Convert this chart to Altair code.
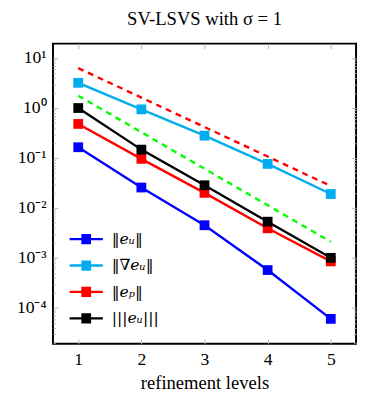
import json
import altair as alt
import pandas as pd

# ---- data ----
levels = [1, 2, 3, 4, 5]
err_u = [0.164, 0.0256, 0.0045, 0.00057, 0.000060]
err_grad_u = [3.2, 0.94, 0.28, 0.076, 0.019]
err_p = [0.48, 0.096, 0.020, 0.0039, 0.00085]
err_energy_u = [1.0, 0.147, 0.0284, 0.0053, 0.0010]

ref_levels = [1, 5]
ref_red = [6.3, 0.0275]
ref_green = [1.77, 0.0021]

series_names = ["‖eᵤ‖", "‖∇eᵤ‖", "‖eₚ‖", "|||eᵤ|||"]
series_colors = ["#0000ff", "#00aeef", "#ff0000", "#000000"]

x_ticks = [1, 2, 3, 4, 5]
y_major = [1e-4, 1e-3, 1e-2, 1e-1, 1e0, 1e1]
y_labels = ["10⁻⁴", "10⁻³", "10⁻²", "10⁻¹", "10⁰", "10¹"]
y_minor = [d * k for d in [1e-5, 1e-4, 1e-3, 1e-2, 1e-1, 1e0] for k in range(2, 10)]
x_domain = [0.6, 5.4]
y_domain = [10 ** -4.72, 10 ** 1.29]

# ---- tables ----
rows = []
for name, vals in zip(series_names, [err_u, err_grad_u, err_p, err_energy_u]):
    for lv, v in zip(levels, vals):
        rows.append({"level": lv, "err": v, "series": name})
df = pd.DataFrame(rows)
df_red = pd.DataFrame({"level": ref_levels, "err": ref_red})
df_green = pd.DataFrame({"level": ref_levels, "err": ref_green})

xs = alt.Scale(domain=x_domain, nice=False, zero=False)
ys = alt.Scale(type="log", domain=y_domain, nice=False)

lg = "log(datum.value)/LN10"
is_major = f"abs({lg} - round({lg})) < 0.001"
label_expr = f"{is_major} ? {json.dumps(y_labels, ensure_ascii=False)}[round({lg})+4] : ''"
y_tick_size = {"condition": {"test": is_major, "value": -5}, "value": -2.5}
tick_color = "#b4b4b4"

SERIF = "Liberation Serif"
LEG_FONT = "DejaVu Serif"

legend_symbol = ("M-3,0H3M-0.88,-0.71H0.88M-0.88,-0.35H0.88M-0.88,0H0.88"
                 "M-0.88,0.35H0.88M-0.88,0.71H0.88")

main = alt.Chart(df).mark_line(
    strokeWidth=2.4,
    point=alt.OverlayMarkDef(shape="square", size=100, filled=True, opacity=1),
).encode(
    x=alt.X("level:Q", scale=xs, axis=alt.Axis(
        orient="bottom", values=x_ticks, title="refinement levels",
        tickSize={"expr": "-5"}, tickColor=tick_color, labelPadding=12,
        labelFont=SERIF, labelFontSize=18, titleFont=SERIF, titleFontSize=19,
        titleFontWeight="normal", titlePadding=6, titleColor="black", labelColor="black",
        format="d")),
    y=alt.Y("err:Q", scale=ys, axis=alt.Axis(
        orient="left", values=y_major + y_minor, labelExpr=label_expr,
        tickSize=y_tick_size, tickColor=tick_color, labelPadding=12,
        labelFont=SERIF, labelFontSize=18, labelOverlap=False, title=None,
        labelColor="black")),
    color=alt.Color("series:N", sort=series_names,
                    scale=alt.Scale(domain=series_names, range=series_colors),
                    legend=alt.Legend(
                        title=None, orient="none", legendX=26, legendY=192,
                        symbolType=legend_symbol, symbolSize=128,
                        symbolStrokeWidth=2.4, symbolOpacity=1,
                        labelFont=LEG_FONT, labelFontSize=16, labelFontStyle="italic",
                        labelOffset=18, rowPadding=9, padding=0, labelColor="black")),
)

red = alt.Chart(df_red).mark_line(
    strokeWidth=2.4, strokeDash=[6, 5], color="#ff0000"
).encode(
    x=alt.X("level:Q", scale=xs, axis=alt.Axis(
        orient="top", values=x_ticks, labels=False, title=None,
        tickSize={"expr": "-5"}, tickColor=tick_color)),
    y=alt.Y("err:Q", scale=ys, axis=alt.Axis(
        orient="right", values=y_major + y_minor, labels=False, title=None,
        tickSize=y_tick_size, tickColor=tick_color)),
)

green = alt.Chart(df_green).mark_line(
    strokeWidth=2.4, strokeDash=[6, 5], color="#00ff00"
).encode(
    x=alt.X("level:Q", scale=xs, axis=None),
    y=alt.Y("err:Q", scale=ys, axis=None),
)

chart = alt.layer(main, red, green).resolve_axis(
    x="independent", y="independent"
).properties(
    width=310, height=307,
    padding={"left": 46, "top": 32, "right": 2, "bottom": 48},
    autosize=alt.AutoSizeParams(type="none"),
    title=alt.TitleParams("SV-LSVS with σ = 1", font=SERIF, fontSize=19,
                          fontWeight="normal", anchor="middle", offset=15,
                          color="black"),
).configure_view(
    stroke="black", strokeWidth=2
).configure_axis(
    domain=False, grid=False
)

chart.save("out.html", embed_options={"renderer": "svg", "actions": False})
